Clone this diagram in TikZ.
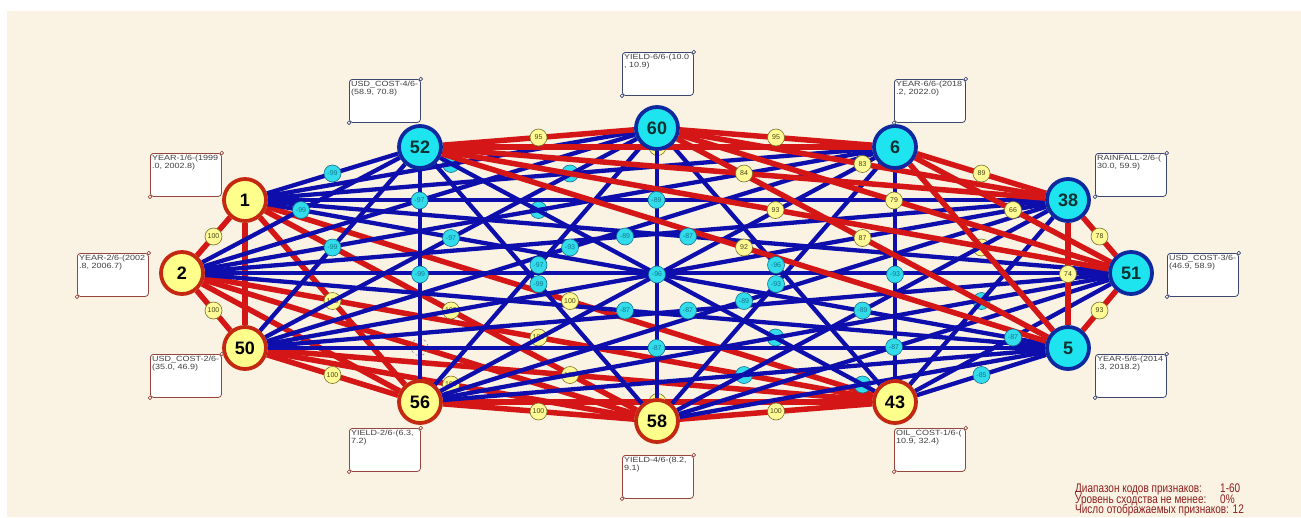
\documentclass[tikz,border=0pt]{standalone}
\usepackage{fontspec}
\usepackage{graphicx}
\setmainfont{Liberation Sans}

\definecolor{paper}{RGB}{250,243,227}
\definecolor{edgered}{RGB}{212,22,22}
\definecolor{edgeblue}{RGB}{14,14,172}
\definecolor{nodeyellow}{RGB}{255,255,140}
\definecolor{nodeyellowrim}{RGB}{196,40,16}
\definecolor{nodecyan}{RGB}{30,228,240}
\definecolor{nodecyanrim}{RGB}{14,40,160}
\definecolor{cyantext}{RGB}{10,50,50}
\definecolor{labyellow}{RGB}{255,250,150}
\definecolor{labyellowrim}{RGB}{120,110,40}
\definecolor{labyellowtext}{RGB}{70,70,20}
\definecolor{labcyan}{RGB}{50,220,235}
\definecolor{labcyanrim}{RGB}{20,110,140}
\definecolor{labcyantext}{RGB}{20,120,140}
\definecolor{boxrimy}{RGB}{150,70,60}
\definecolor{boxrimc}{RGB}{60,70,110}
\definecolor{legendred}{RGB}{140,30,30}

\newcommand\wide[1]{\scalebox{1.2}[1]{#1}}
\newcommand\narrow[1]{\scalebox{0.8}[1]{#1}}

\pgfdeclarelayer{paperlayer}
\pgfdeclarelayer{redylayer}
\pgfdeclarelayer{faintlayer}
\pgfdeclarelayer{bluelayer}
\pgfdeclarelayer{redclayer}
\pgfsetlayers{paperlayer,redylayer,faintlayer,bluelayer,redclayer,main}

\tikzset{
  ynode/.style={circle, fill=nodeyellow, draw=nodeyellowrim, line width=3.8pt,
    minimum size=42pt, inner sep=0pt, font=\bfseries\fontsize{18}{18}\selectfont},
  cnode/.style={ynode, fill=nodecyan, draw=nodecyanrim, text=cyantext},
  redge/.style={draw=edgered, line width=5.5pt},
  bedge/.style={draw=edgeblue, line width=4.3pt},
  ylab/.style={circle, fill=labyellow, draw=labyellowrim, line width=0.6pt,
    minimum size=17pt, inner sep=0pt, text=labyellowtext,
    font=\fontsize{7}{7}\selectfont},
  clab/.style={ylab, fill=labcyan, draw=labcyanrim, text=labcyantext},
  ghostlab/.style={circle, draw=gray, dashed, line width=0.5pt, minimum size=17pt, inner sep=0pt},
  infobox/.style={rectangle, rounded corners=3pt, fill=white, line width=0.8pt,
    minimum width=71pt, minimum height=43pt, inner sep=0pt, anchor=north west},
  infotext/.style={anchor=north west, inner sep=2pt, align=left, text=black!75,
    font=\fontsize{7.5}{7.6}\selectfont},
  handle/.style={circle, fill=white, line width=0.6pt, minimum size=3.6pt, inner sep=0pt},
  legendtext/.style={anchor=base west, inner sep=0pt, text=legendred,
    font=\fontsize{12.5}{12.5}\selectfont}
}

\begin{document}
\begin{tikzpicture}[x=1pt, y=-1pt]
\begin{pgfonlayer}{paperlayer}
  \fill[white] (0,0) rectangle (1301,517);
  \fill[paper] (7,11) rectangle (1301,517);
\end{pgfonlayer}
\useasboundingbox (0,0) rectangle (1301,517);

% feature nodes on an ellipse
\node[cnode] (n60) at (657,128) {60};
\node[cnode] (n52) at (420,147) {52};
\node[ynode] (n1)  at (245,200) {1};
\node[ynode] (n2)  at (182,273) {2};
\node[ynode] (n50) at (245,348) {50};
\node[ynode] (n56) at (420,402) {56};
\node[ynode] (n58) at (657,421) {58};
\node[ynode] (n43) at (895,402) {43};
\node[cnode] (n5)  at (1068,348) {5};
\node[cnode] (n51) at (1131,273) {51};
\node[cnode] (n38) at (1068,200) {38};
\node[cnode] (n6)  at (895,147) {6};

% similarity links inside the yellow group
\begin{pgfonlayer}{redylayer}
  \foreach \a/\b in {1/2,2/50,50/56,56/58,58/43,1/43,1/50,1/56,1/58,2/56,2/58,2/43,50/58,50/43,56/43}
    {\draw[redge] (n\a) -- (n\b);}
\end{pgfonlayer}

% labels that sit underneath other links
\begin{pgfonlayer}{faintlayer}
  \foreach \a/\b in {1/56,1/58,2/43,50/58,50/43}
    {\path (n\a) -- (n\b) node[midway, ylab] (e\a-\b) {100};}
  \foreach \a/\b in {52/6,56/43,6/5}
    {\path (n\a) -- (n\b) node[midway, ylab] (e\a-\b) {};}
  \path (n2) -- (n58) node[midway, ghostlab] (e2-58) {};
  \foreach \a/\b in {1/60,1/6,2/6,56/51,56/5,58/5,43/38}
    {\path (n\a) -- (n\b) node[midway, clab] (e\a-\b) {};}
\end{pgfonlayer}

% dissimilarity links between the groups
\begin{pgfonlayer}{bluelayer}
  \foreach \a in {1,2,50,56,58,43}
    \foreach \b in {60,52,6,38,51,5}
      {\draw[bedge] (n\a) -- (n\b);}
\end{pgfonlayer}

% similarity links inside the cyan group
\begin{pgfonlayer}{redclayer}
  \foreach \a/\b in {60/52,60/6,6/38,38/51,51/5,60/38,60/51,60/5,52/6,52/38,52/51,52/5,6/51,6/5,38/5}
    {\draw[redge] (n\a) -- (n\b);}
\end{pgfonlayer}

% link values
\foreach \a/\b/\v in {60/52/95,60/6/95,6/38/89,38/51/78,51/5/93,60/38/83,60/51/79,60/5/87,
  52/38/84,52/51/93,52/5/92,6/51/66,38/5/74,
  1/2/100,2/50/100,50/56/100,56/58/100,58/43/100,1/43/100}
  {\path (n\a) -- (n\b) node[midway, ylab] (e\a-\b) {\v};}
\foreach \a/\b/\v in {1/52/-99,1/38/-89,1/51/-87,2/52/-99,2/38/-89,2/5/-87,2/60/-97,
  50/60/-97,50/52/-99,50/6/-93,50/51/-87,50/5/-87,56/60/-97,56/52/-99,56/38/-89,
  58/52/-99,58/6/-93,58/38/-89,58/51/-87,43/60/-96,43/6/-93,43/51/-87,43/5/-85,58/60/-96}
  {\path (n\a) -- (n\b) node[midway, clab] (e\a-\b) {\v};}

% feature descriptions
\foreach \n/\x/\y/\c/\la/\lb in {
  52/349/79/boxrimc/{USD\_COST-4/6-}/{(58.9, 70.8)},
  60/622/52/boxrimc/{YIELD-6/6-(10.0}/{, 10.9)},
  6/894/79/boxrimc/{YEAR-6/6-(2018}/{.2, 2022.0)},
  1/150/153/boxrimy/{YEAR-1/6-(1999}/{.0, 2002.8)},
  38/1095/153/boxrimc/{RAINFALL-2/6-(}/{30.0, 59.9)},
  2/77/253/boxrimy/{YEAR-2/6-(2002}/{.8, 2006.7)},
  51/1167/253/boxrimc/{USD\_COST-3/6-}/{(46.9, 58.9)},
  50/150/354/boxrimy/{USD\_COST-2/6-}/{(35.0, 46.9)},
  5/1095/354/boxrimc/{YEAR-5/6-(2014}/{.3, 2018.2)},
  56/349/428/boxrimy/{YIELD-2/6-(6.3,}/{7.2)},
  58/622/455/boxrimy/{YIELD-4/6-(8.2,}/{9.1)},
  43/894/428/boxrimy/{OIL\_COST-1/6-(}/{10.9, 32.4)}}
{
  \node[infobox, draw=\c] (b\n) at (\x,\y) {};
  \node[infotext] (t\n) at (b\n.north west) {\wide{\la}\\\wide{\lb}};
  \node[handle, draw=\c] (hu\n) at (b\n.north east) {};
  \node[handle, draw=\c] (hl\n) at (b\n.south west) {};
}

% legend
\node[legendtext] (g1) at (1075,492.5) {\narrow{Диапазон кодов признаков:}};
\node[legendtext] (g2) at (1075,503) {\narrow{Уровень сходства не менее:}};
\node[legendtext] (g3) at (1075,513.5) {\narrow{Число отображаемых признаков: 12}};
\node[legendtext] (v1) at (1220,492.5) {\narrow{1-60}};
\node[legendtext] (v2) at (1220,503) {\narrow{0\%}};
\end{tikzpicture}
\end{document}
